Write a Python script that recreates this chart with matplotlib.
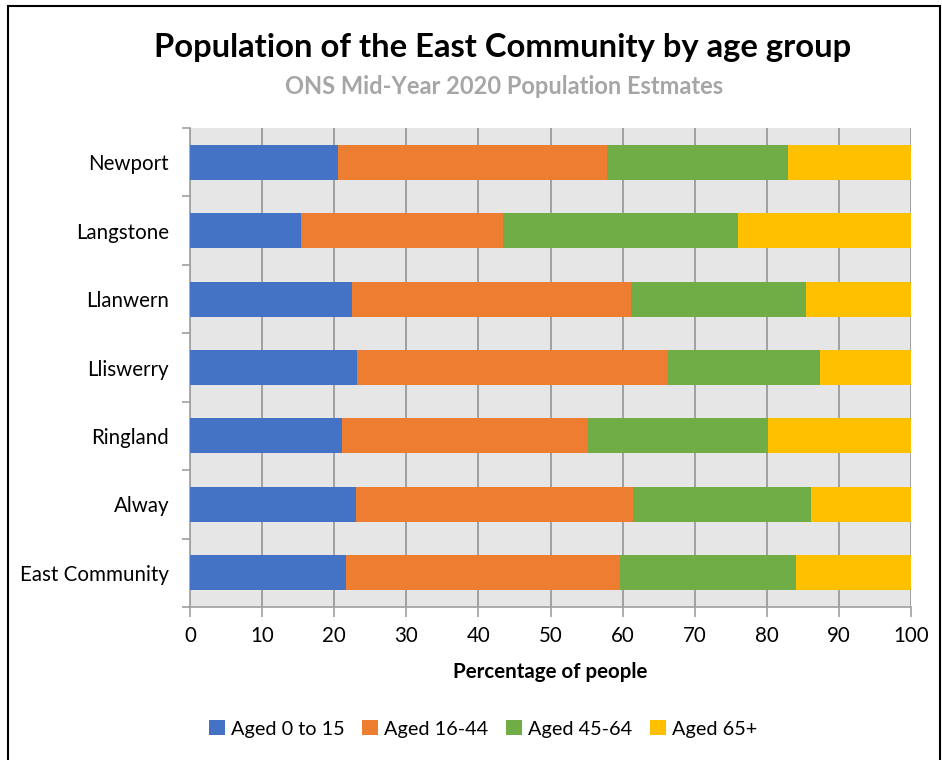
import matplotlib.pyplot as plt
import numpy as np
from matplotlib.patches import Rectangle

plt.rcParams['font.family'] = ['Lato', 'DejaVu Sans']

areas = ['Newport', 'Langstone', 'Llanwern', 'Lliswerry', 'Ringland', 'Alway', 'East Community']
groups = ['Aged 0 to 15', 'Aged 16-44', 'Aged 45-64', 'Aged 65+']
aged_0_15 = [20.5, 15.4, 22.4, 23.1, 21.1, 23.0, 21.6]
aged_16_44 = [37.3, 28.0, 38.8, 43.2, 34.1, 38.5, 38.1]
aged_45_64 = [25.2, 32.6, 24.2, 21.1, 24.9, 24.6, 24.4]
aged_65 = [17.0, 24.0, 14.6, 12.6, 19.9, 13.9, 15.9]
colours = ['#4472c4', '#ed7d31', '#70ad47', '#ffc000']

fig = plt.figure(figsize=(9.42, 7.6), dpi=100)
ax = fig.add_axes([190 / 942, 1 - 607 / 760, 721 / 942, 479 / 760])
ax.set_facecolor('#e6e6e6')

y = np.arange(len(areas))
left = np.zeros(len(areas))
for vals, name, col in zip([aged_0_15, aged_16_44, aged_45_64, aged_65], groups, colours):
    ax.barh(y, vals, left=left, height=0.51, color=col, label=name, zorder=3)
    left += np.array(vals)

ax.set_ylim(len(areas) - 0.5, -0.5)
ax.set_xlim(0, 100)
ax.set_yticks(y)
ax.set_yticklabels(areas, fontsize=14.8)
ax.set_yticks(np.arange(-0.5, len(areas)), minor=True)
ax.tick_params(axis='y', which='major', length=0, pad=15)
ax.tick_params(axis='y', which='minor', length=6, color='#a0a0a0', width=1.2)
ax.set_xticks(range(0, 101, 10))
ax.tick_params(axis='x', labelsize=14.8, length=7, color='#a0a0a0', width=1.2, pad=7)
ax.grid(axis='x', color='#a0a0a0', linewidth=1.4, zorder=1)
ax.set_axisbelow(True)
for s in ['top', 'right']:
    ax.spines[s].set_visible(False)
for s in ['left', 'bottom']:
    ax.spines[s].set_color('#a0a0a0')
    ax.spines[s].set_linewidth(1.2)

ax.set_xlabel('Percentage of people', fontsize=14.8, fontweight='bold', labelpad=11)

fig.text(503 / 942, 1 - 48 / 760, 'Population of the East Community by age group',
         ha='center', va='center', fontsize=23.6, fontweight='bold', color='black')
fig.text(504 / 942, 1 - 86 / 760, 'ONS Mid-Year 2020 Population Estmates',
         ha='center', va='center', fontsize=17, fontweight='bold', color='#a6a6a6')

ax.legend(loc='center', bbox_to_anchor=(483 / 942, 1 - 729 / 760), bbox_transform=fig.transFigure,
          ncol=4, frameon=False, fontsize=14.3, handlelength=0.8, handleheight=0.8,
          handletextpad=0.3, columnspacing=0.9)

fig.patches.append(Rectangle((8 / 942, -0.01), 932 / 942, 1 - 6 / 760 + 0.01,
                             transform=fig.transFigure, fill=False, edgecolor='black', linewidth=1.5))

fig.savefig('out.png', dpi=100)
